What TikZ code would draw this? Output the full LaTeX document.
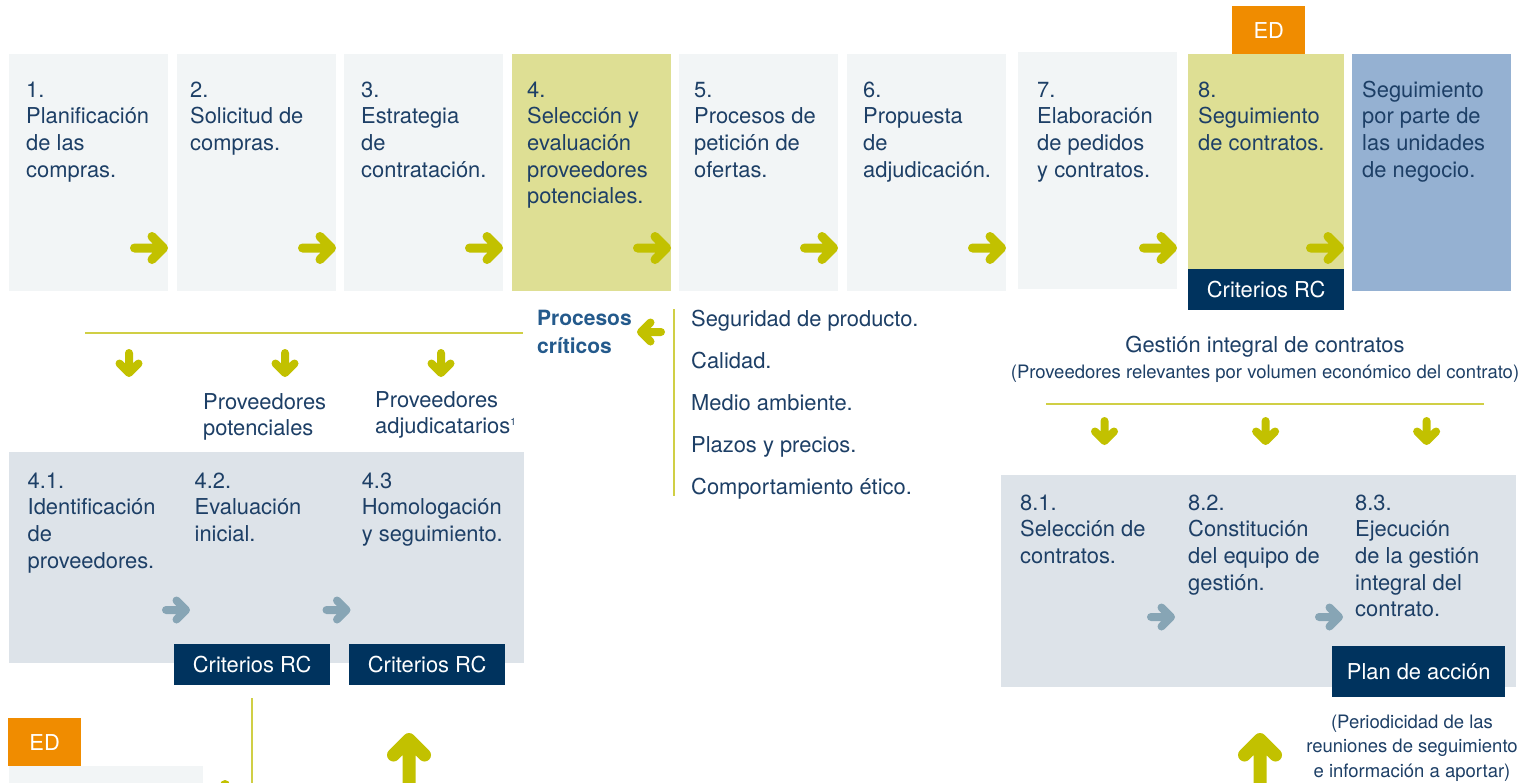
\documentclass[tikz,border=0pt]{standalone}
\usepackage{fontspec}
\setmainfont{TeX Gyre Heros}
\definecolor{boxgray}{HTML}{F2F5F6}
\definecolor{boxyel}{HTML}{DEDF94}
\definecolor{boxblue}{HTML}{95B1D2}
\definecolor{navy}{HTML}{00335E}
\definecolor{edorange}{HTML}{F08C00}
\definecolor{agreen}{HTML}{C2C100}
\definecolor{lyel}{HTML}{D0CF45}
\definecolor{panel}{HTML}{DDE3E9}
\definecolor{garrow}{HTML}{87A5B5}
\definecolor{tnavy}{HTML}{1D3F66}
\definecolor{tbold}{HTML}{245A8C}
\newcommand{\tl}[1]{\begin{tabular}[t]{@{}l@{}}#1\end{tabular}}
\newcommand{\tc}[1]{\begin{tabular}[t]{@{}c@{}}#1\end{tabular}}
\newcommand{\bigR}[3]{\draw[#3, line width=9pt, line cap=round, line join=round] (#1-29,#2) -- (#1,#2) (#1-11.5,#2-11.5) -- (#1,#2) -- (#1-11.5,#2+11.5);}
\newcommand{\smR}[3]{\draw[#3, line width=8pt, line cap=round, line join=round] (#1-20,#2) -- (#1,#2) (#1-9.5,#2-9.5) -- (#1,#2) -- (#1-9.5,#2+9.5);}
\newcommand{\smL}[3]{\draw[#3, line width=8pt, line cap=round, line join=round] (#1+20,#2) -- (#1,#2) (#1+9.5,#2-9.5) -- (#1,#2) -- (#1+9.5,#2+9.5);}
\newcommand{\smD}[3]{\draw[#3, line width=8pt, line cap=round, line join=round] (#1,#2-20) -- (#1,#2) (#1-9.5,#2-9.5) -- (#1,#2) -- (#1+9.5,#2-9.5);}
\newcommand{\bigU}[3]{\draw[#3, line width=13pt, line cap=round, line join=round] (#1,#2+80) -- (#1,#2) (#1-15.5,#2+15.5) -- (#1,#2) -- (#1+15.5,#2+15.5);}
\begin{document}
\begin{tikzpicture}[x=1pt, y=-1pt,
  card/.style={rectangle, inner sep=0pt, draw=none, anchor=north west},
  lbox/.style={card, fill=boxgray},
  ybox/.style={card, fill=boxyel},
  navybox/.style={rectangle, inner sep=0pt, fill=navy, text=white, font=\fontsize{21.9}{26.7}\selectfont},
  edbox/.style={card, fill=edorange, text=white, font=\fontsize{21.9}{26.7}\selectfont},
  txt/.style={anchor=base west, inner sep=0pt, text=tnavy, font=\fontsize{21.9}{26.7}\selectfont},
  ctxt/.style={anchor=base, inner sep=0pt, text=tnavy, font=\fontsize{21.9}{26.7}\selectfont},
  stxt/.style={anchor=base, inner sep=0pt, text=tnavy, font=\fontsize{18.5}{24.5}\selectfont},
  yline/.style={draw=lyel, line width=2pt}]
\clip (0,0) rectangle (1539,782);
\fill[white] (0,0) rectangle (1539,782);

% ---- top row of boxes
\node[lbox, minimum width=159pt, minimum height=237pt] (b1) at (9,54) {};
\node[lbox, minimum width=159pt, minimum height=237pt] (b2) at (177,54) {};
\node[lbox, minimum width=159pt, minimum height=237pt] (b3) at (344,54) {};
\node[ybox, minimum width=159pt, minimum height=237pt] (b4) at (512,54) {};
\node[lbox, minimum width=159pt, minimum height=237pt] (b5) at (679,54) {};
\node[lbox, minimum width=159pt, minimum height=237pt] (b6) at (847,54) {};
\node[lbox, minimum width=159pt, minimum height=237pt] (b7) at (1018,52) {};
\node[ybox, minimum width=156pt, minimum height=215pt] (b8) at (1188,54) {};
\node[card, fill=boxblue, minimum width=159pt, minimum height=237pt] (b9) at (1352,54) {};
\node[edbox, minimum width=73pt, minimum height=48pt] (ed1) at (1232,6) {ED};
\node[navybox, minimum width=156pt, minimum height=41pt, anchor=north west] (rc8) at (1188,269) {Criterios RC};

\node[txt] (t1) at (26,97) {\tl{1.\\Planificación\\de las\\compras.}};
\node[txt] (t2) at (190,97) {\tl{2.\\Solicitud de\\compras.}};
\node[txt] (t3) at (361,97) {\tl{3.\\Estrategia\\de\\contratación.}};
\node[txt] (t4) at (527,97) {\tl{4.\\Selección y\\evaluación\\proveedores\\potenciales.}};
\node[txt] (t5) at (694,97) {\tl{5.\\Procesos de\\petición de\\ofertas.}};
\node[txt] (t6) at (863,97) {\tl{6.\\Propuesta\\de\\adjudicación.}};
\node[txt] (t7) at (1037,97) {\tl{7.\\Elaboración\\de pedidos\\y contratos.}};
\node[txt] (t8) at (1198,97) {\tl{8.\\Seguimiento\\de contratos.}};
\node[txt] (t9) at (1362,97) {\tl{Seguimiento\\por parte de\\las unidades\\de negocio.}};

\bigR{163.5}{248}{agreen}
\bigR{331.5}{248}{agreen}
\bigR{498.5}{248}{agreen}
\bigR{666.5}{248}{agreen}
\bigR{833.5}{248}{agreen}
\bigR{1001.5}{248}{agreen}
\bigR{1172.5}{248}{agreen}
\bigR{1339.5}{248}{agreen}

% ---- left lower section
\coordinate (l1a) at (85,333);
\coordinate (l1b) at (523,333);
\draw[yline] (l1a) -- (l1b);
\smD{129}{373}{agreen}
\smD{285}{373}{agreen}
\smD{441}{373}{agreen}
\node[txt] (pp) at (203,409) {\tl{Proveedores\\potenciales}};
\node[txt] (pa) at (375,407) {\tl{Proveedores\\adjudicatarios\raisebox{8pt}{\fontsize{10}{10}\selectfont 1}}};

\node[card, fill=panel, minimum width=515pt, minimum height=211pt] (p4) at (9,452) {};
\node[txt] (t41) at (27.5,488) {\tl{4.1.\\Identificación\\de\\proveedores.}};
\node[txt] (t42) at (194.5,488) {\tl{4.2.\\Evaluación\\inicial.}};
\node[txt] (t43) at (361.6,488) {\tl{4.3\\Homologación\\y seguimiento.}};
\smR{186}{610}{garrow}
\smR{346.5}{610}{garrow}
\node[navybox, minimum width=156pt, minimum height=41pt, anchor=north west] (rc42) at (174,644) {Criterios RC};
\node[navybox, minimum width=156pt, minimum height=41pt, anchor=north west] (rc43) at (349,644) {Criterios RC};

\coordinate (v1a) at (252,698);
\coordinate (v1b) at (252,790);
\draw[yline] (v1a) -- (v1b);
\node[edbox, minimum width=73pt, minimum height=48pt] (ed2) at (8,718) {ED};
\node[lbox, minimum width=194pt, minimum height=30pt] (bb) at (9,766) {};
\fill[agreen] (225,785) circle (5pt);
\bigU{409}{739.5}{agreen}

% ---- critical processes
\node[anchor=base west, inner sep=0pt, text=tbold, font=\fontsize{21}{28}\selectfont\bfseries] (pc) at (537,325) {\tl{Procesos\\críticos}};
\smL{641}{332}{agreen}
\coordinate (v2a) at (674,309);
\coordinate (v2b) at (674,496);
\draw[yline] (v2a) -- (v2b);
\node[txt] (c1) at (691,326) {Seguridad de producto.};
\node[txt] (c2) at (691,368) {Calidad.};
\node[txt] (c3) at (691,410) {Medio ambiente.};
\node[txt] (c4) at (691,452) {Plazos y precios.};
\node[txt] (c5) at (691,494) {Comportamiento ético.};

% ---- right lower section
\node[ctxt] (gi) at (1265,352) {Gestión integral de contratos};
\node[stxt] (gp) at (1265,378) {(Proveedores relevantes por volumen económico del contrato)};
\coordinate (l2a) at (1046,404);
\coordinate (l2b) at (1484,404);
\draw[yline] (l2a) -- (l2b);
\smD{1104.5}{441}{agreen}
\smD{1265.6}{441}{agreen}
\smD{1426.6}{441}{agreen}

\node[card, fill=panel, minimum width=515pt, minimum height=212pt] (p8) at (1001,475) {};
\node[txt] (t81) at (1020,510) {\tl{8.1.\\Selección de\\contratos.}};
\node[txt] (t82) at (1188,510) {\tl{8.2.\\Constitución\\del equipo de\\gestión.}};
\node[txt] (t83) at (1355,510) {\tl{8.3.\\Ejecución\\de la gestión\\integral del\\contrato.}};
\smR{1171}{617}{garrow}
\smR{1339}{617}{garrow}
\node[navybox, minimum width=173pt, minimum height=51pt, anchor=north west] (pa8) at (1332,646) {Plan de acción};
\node[stxt] (per) at (1412,728) {\tc{(Periodicidad de las\\reuniones de seguimiento\\e información a aportar)}};
\bigU{1260}{739.5}{agreen}
\end{tikzpicture}
\end{document}
